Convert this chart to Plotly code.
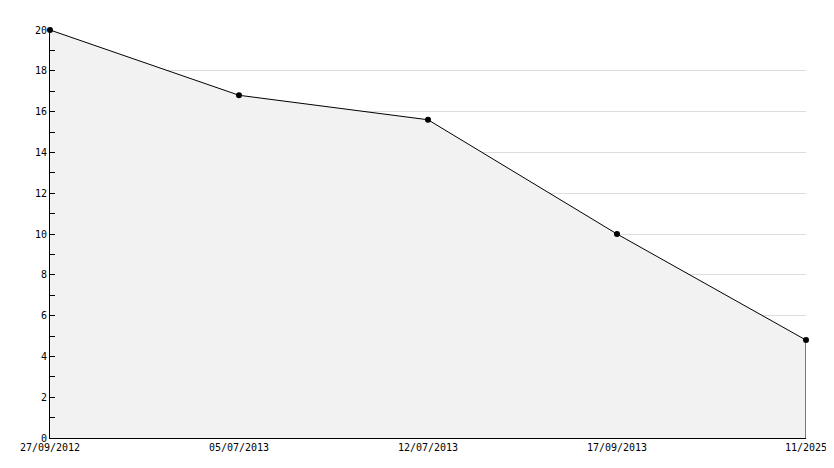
import plotly.graph_objects as go

categories = ["27/09/2012", "05/07/2013", "12/07/2013", "17/09/2013", "11/2025"]
values = [20, 16.8, 15.6, 10, 4.8]
y_ticks = [0, 2, 4, 6, 8, 10, 12, 14, 16, 18, 20]

fig = go.Figure()
fig.add_trace(go.Scatter(
    x=categories, y=values, mode="lines+markers",
    fill="tozeroy", fillcolor="#f2f2f2",
    line=dict(color="black", width=1),
    marker=dict(color="black", size=6, symbol="circle"),
    hoverinfo="x+y", showlegend=False, cliponaxis=False,
))
fig.add_trace(go.Scatter(
    x=[categories[-1], categories[-1]], y=[0, values[-1]], mode="lines",
    line=dict(color="black", width=1), hoverinfo="skip", showlegend=False,
    cliponaxis=False,
))

fig.update_layout(
    width=826, height=460,
    margin=dict(l=42, r=28, t=22, b=30),
    paper_bgcolor="white", plot_bgcolor="white",
    font=dict(family="DejaVu Sans Mono", size=10, color="black"),
    xaxis=dict(
        type="category", range=[0, len(categories) - 1], automargin=False,
        showgrid=False, showline=True, linecolor="black", linewidth=1,
        ticks="", zeroline=False, tickfont=dict(size=10),
    ),
    yaxis=dict(
        range=[0, 20], tickvals=y_ticks, showgrid=True, gridcolor="#dddddd",
        gridwidth=1, showline=True, linecolor="black", linewidth=1, automargin=False,
        ticks="inside", ticklen=5, tickcolor="black", zeroline=False,
        minor=dict(dtick=1, ticks="inside", ticklen=5, tickcolor="black", showgrid=False),
        tickfont=dict(size=10),
    ),
)
fig.write_html("out.html")
